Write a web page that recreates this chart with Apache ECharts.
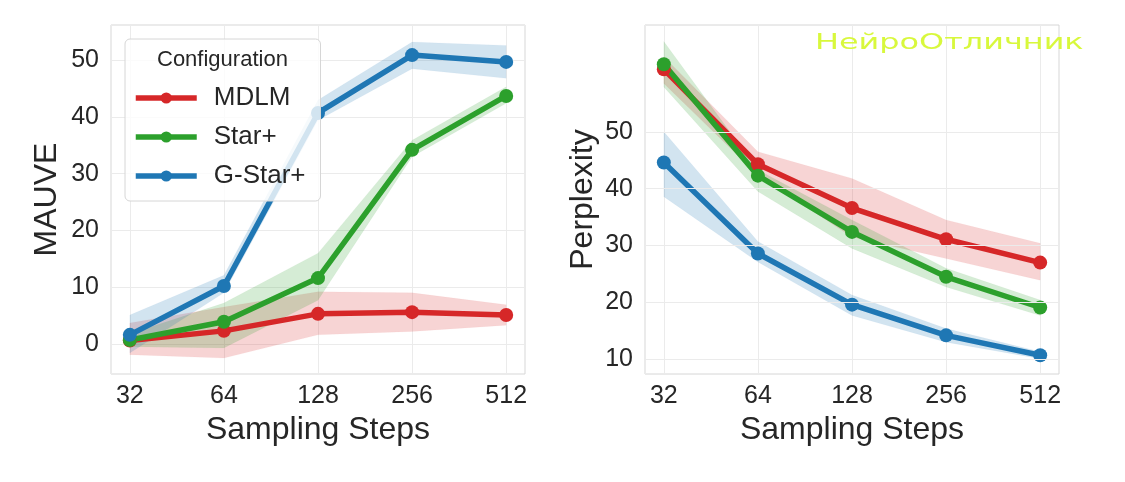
<!DOCTYPE html>
<html>
<head>
<meta charset="utf-8">
<script src="https://cdn.jsdelivr.net/npm/echarts@6/dist/echarts.min.js"></script>
<style>
  html, body { margin: 0; padding: 0; background: #fff; }
  #main { width: 1125px; height: 482px; }
</style>
</head>
<body>
<div id="main"></div>
<script>
// x categories
const steps = ['32', '64', '128', '256', '512'];
const series_names = ['MDLM', 'Star+', 'G-Star+'];
const colors = ['#d62728', '#2ca02c', '#1f77b4'];

// MAUVE (left)
const mauveMDLM = [0.6, 2.3, 5.3, 5.6, 5.1];
const mauveMDLMLow = [-1.9, -2.5, 1.6, 2.2, 3.3];
const mauveMDLMHigh = [3.7, 6.5, 9.2, 9.0, 6.9];
const mauveStar = [0.7, 3.9, 11.6, 34.2, 43.7];
const mauveStarLow = [-0.5, -0.7, 7.7, 33.0, 42.4];
const mauveStarHigh = [1.8, 7.2, 16.0, 35.9, 45.3];
const mauveGStar = [1.6, 10.2, 40.7, 50.9, 49.7];
const mauveGStarLow = [-1.6, 9.0, 39.4, 48.5, 46.8];
const mauveGStarHigh = [5.1, 12.1, 43.0, 53.2, 52.6];

// Perplexity (right)
const pplMDLM = [61.0, 44.3, 36.6, 31.1, 27.0];
const pplMDLMLow = [58.5, 42.4, 31.5, 27.7, 23.9];
const pplMDLMHigh = [63.2, 46.5, 41.8, 34.5, 30.4];
const pplStar = [61.9, 42.3, 32.4, 24.5, 19.1];
const pplStarLow = [57.9, 39.5, 29.5, 22.7, 17.7];
const pplStarHigh = [65.9, 43.3, 34.5, 26.0, 20.4];
const pplGStar = [44.6, 28.6, 19.6, 14.2, 10.7];
const pplGStarLow = [38.6, 27.1, 17.7, 13.0, 10.1];
const pplGStarHigh = [50.0, 30.7, 21.3, 15.4, 11.3];

// tick labels
const mauveTicks = [0, 10, 20, 30, 40, 50];
const pplTicks = [10, 20, 30, 40, 50];

const FONT = 'Liberation Sans, Arial, sans-serif';
const TXT = '#262626';

const pts = arr => arr.map((v, i) => [i, v]);

// confidence band: one polygon through the axis scale
function band(low, high, color, axisIdx) {
  return {
    type: 'custom', xAxisIndex: axisIdx, yAxisIndex: axisIdx,
    data: low.map((l, i) => [i, l, high[i]]), silent: true, z: 1, clip: true,
    renderItem: function (params, api) {
      if (params.dataIndex !== 0) return;
      let poly = [];
      for (let i = 0; i < high.length; i++) poly.push(api.coord([i, high[i]]));
      for (let i = low.length - 1; i >= 0; i--) poly.push(api.coord([i, low[i]]));
      return {
        type: 'polygon',
        shape: { points: poly },
        style: { fill: color, opacity: 0.2, stroke: color, lineWidth: 0.6, strokeOpacity: 0.25 }
      };
    }
  };
}

function mainLine(name, vals, color, axisIdx) {
  return {
    name: name, type: 'line', xAxisIndex: axisIdx, yAxisIndex: axisIdx,
    data: pts(vals), z: 3,
    symbol: 'circle', symbolSize: 14,
    lineStyle: { width: 5.5, color: color },
    itemStyle: { color: color, borderWidth: 0 }
  };
}

function xAxis(gridIdx) {
  return {
    type: 'value', gridIndex: gridIdx, min: -0.2, max: 4.2,
    name: 'Sampling Steps', nameLocation: 'middle', nameGap: 38,
    nameTextStyle: { fontSize: 32, color: TXT, fontFamily: FONT },
    axisLine: { show: false }, axisTick: { show: false },
    axisLabel: {
      fontSize: 25, color: TXT, fontFamily: FONT, margin: 10,
      formatter: v => Number.isInteger(v) ? steps[v] : ''
    },
    splitLine: { show: true, lineStyle: { color: '#ebebeb', width: 1 } }
  };
}

const chart = echarts.init(document.getElementById('main'));

const seriesList = [
  band(mauveMDLMLow, mauveMDLMHigh, colors[0], 0),
  band(mauveStarLow, mauveStarHigh, colors[1], 0),
  band(mauveGStarLow, mauveGStarHigh, colors[2], 0),
  mainLine('MDLM', mauveMDLM, colors[0], 0),
  mainLine('Star+', mauveStar, colors[1], 0),
  mainLine('G-Star+', mauveGStar, colors[2], 0),
  band(pplMDLMLow, pplMDLMHigh, colors[0], 1),
  band(pplStarLow, pplStarHigh, colors[1], 1),
  band(pplGStarLow, pplGStarHigh, colors[2], 1),
  mainLine('MDLM', pplMDLM, colors[0], 1),
  mainLine('Star+', pplStar, colors[1], 1),
  mainLine('G-Star+', pplGStar, colors[2], 1),
  // gridlines for perplexity (no line at 60 in the original)
  {
    type: 'line', xAxisIndex: 1, yAxisIndex: 1, data: [], silent: true, z: 0,
    markLine: {
      silent: true, symbol: 'none', label: { show: false },
      lineStyle: { color: '#ebebeb', width: 1, type: 'solid' },
      data: pplTicks.map(t => ({ yAxis: t }))
    }
  }
];

let option = {
  backgroundColor: '#fff',
  animation: false,
  color: colors,
  grid: [
    { left: 111, top: 25, width: 414, height: 349, show: true, borderColor: '#d6d6d6', borderWidth: 1 },
    { left: 645, top: 25, width: 414, height: 349, show: true, borderColor: '#d6d6d6', borderWidth: 1 }
  ],
  xAxis: [xAxis(0), xAxis(1)],
  yAxis: [{
    type: 'value', gridIndex: 0, min: -5.3, max: 56.2, splitNumber: 6,
    name: 'MAUVE', nameLocation: 'middle', nameGap: 48,
    nameTextStyle: { fontSize: 32, color: TXT, fontFamily: FONT },
    axisLine: { show: false }, axisTick: { show: false },
    axisLabel: {
      fontSize: 25, color: TXT, fontFamily: FONT, margin: 12,
      formatter: v => mauveTicks.includes(v) ? String(v) : ''
    },
    splitLine: { show: true, lineStyle: { color: '#ebebeb', width: 1 } }
  }, {
    type: 'value', gridIndex: 1, min: 7.4, max: 68.8, splitNumber: 6,
    name: 'Perplexity', nameLocation: 'middle', nameGap: 46,
    nameTextStyle: { fontSize: 32, color: TXT, fontFamily: FONT },
    axisLine: { show: false }, axisTick: { show: false },
    axisLabel: {
      fontSize: 25, color: TXT, fontFamily: FONT, margin: 12,
      formatter: v => pplTicks.includes(v) ? String(v) : ''
    },
    splitLine: { show: false }
  }],
  legend: {
    data: series_names,
    orient: 'vertical',
    left: 125, top: 39,
    padding: [46, 15, 12, 8],
    itemGap: 13,
    itemWidth: 61, itemHeight: 14,
    backgroundColor: 'rgba(255,255,255,0.8)',
    borderColor: '#d6d6d6', borderWidth: 1, borderRadius: 5,
    lineStyle: { width: 5.5 },
    textStyle: { fontSize: 26, color: TXT, fontFamily: FONT, padding: [0, 0, 0, 12] },
    selectedMode: false
  },
  graphic: [{
    type: 'text', left: 157, top: 49, z: 100,
    style: { text: 'Configuration', fontSize: 22, fill: TXT, fontFamily: FONT }
  }, {
    type: 'text', left: 815, top: 32, z: 100, scaleX: 1.45,
    style: { text: 'НейроОтличник', fontSize: 22, fill: '#d8f83c', fontFamily: 'DejaVu Sans, sans-serif' }
  }],
  series: seriesList
};

chart.setOption(option);
</script>
</body>
</html>
